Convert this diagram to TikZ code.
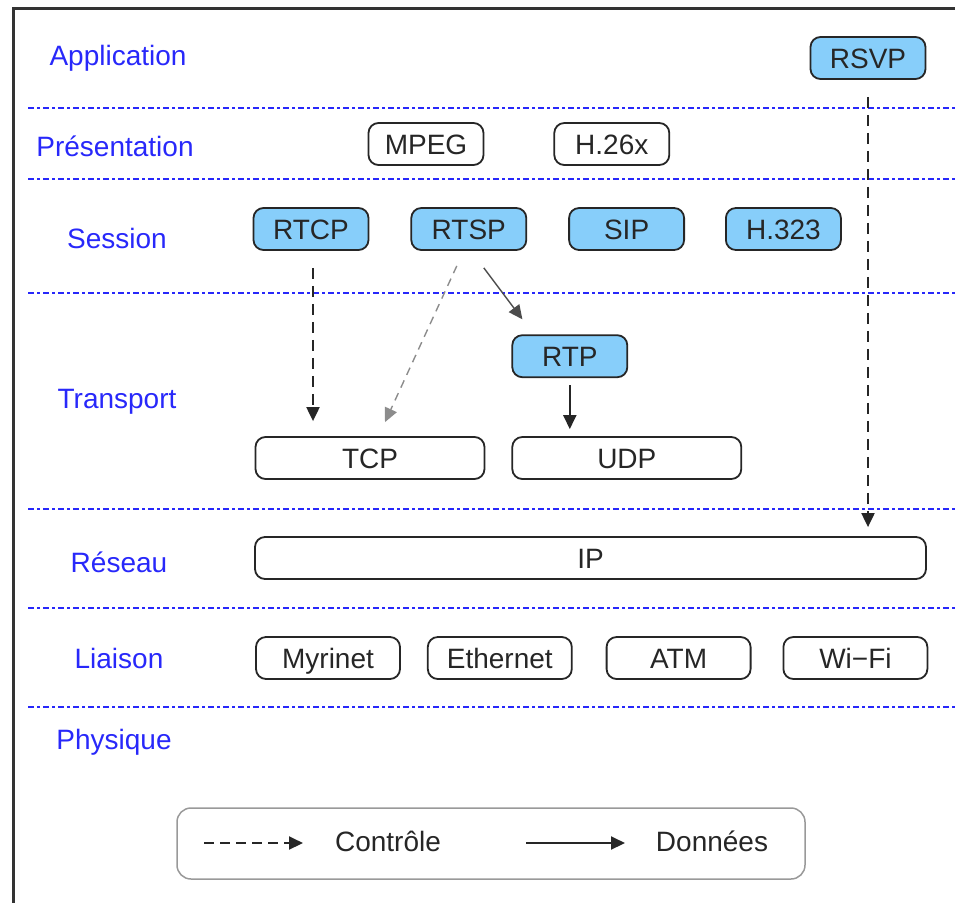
\documentclass[tikz,border=0pt]{standalone}
\usepackage{fontspec}
\setmainfont{Liberation Sans}
\usetikzlibrary{positioning,arrows.meta,calc}

\definecolor{bleucouche}{RGB}{40,40,250}
\definecolor{bleuproto}{RGB}{135,206,250}

\tikzset{
  proto/.style={rectangle, rounded corners=10pt, minimum width=115pt, minimum height=42pt, inner sep=0pt, text height=20pt, text depth=0pt, text centered, draw=black!85, line width=1.8pt, fill=white, text=black!85, font=\fontsize{28}{32}\selectfont},
  protobleu/.style={proto, fill=bleuproto},
  niveau/.style={text=bleucouche, font=\fontsize{28}{32}\selectfont},
  separateur/.style={bleucouche, line width=1.6pt, dash pattern=on 6pt off 3pt on 3pt off 3pt},
  fleche/.style={-{Triangle[length=14pt,width=13pt]}},
  controle/.style={fleche, black!85, line width=2pt, dash pattern=on 11pt off 7pt},
  donnees/.style={fleche, black!85, line width=2pt}
}

\begin{document}
\begin{tikzpicture}[x=1pt, y=-1pt]
\useasboundingbox (0,0) rectangle (955,903);

% Cadre
\draw[black!80, line width=3pt] (955,8) -- (13,8) -- (13,903);

% Couches OSI
\node (application) [niveau] at (118,58) {Application};
\node (presentation) [niveau] at (115,146) {Présentation};
\node (session) [niveau] at (117,238) {Session};
\node (transport) [niveau] at (117,402) {Transport};
\node (reseau) [niveau] at (119,562) {Réseau};
\node (liaison) [niveau] at (119,658) {Liaison};
\node (physique) [niveau] at (114,742) {Physique};

% Séparations entre couches
\draw[separateur] (28,108) -- (955,108);
\draw[separateur] (28,179) -- (955,179);
\draw[separateur] (28,293) -- (955,293);
\draw[separateur] (28,509) -- (955,509);
\draw[separateur] (28,608) -- (955,608);
\draw[separateur] (28,707) -- (955,707);

% Application et Présentation
\node (rsvp) [protobleu] at (868,58) {RSVP};
\node (mpeg) [proto] at (426,144) {MPEG};
\node (h26x) [proto, right=69pt of mpeg] {H.26x};

% Session
\node (rtcp) [protobleu] at (311,229) {RTCP};
\node (rtsp) [protobleu, right=41pt of rtcp] {RTSP};
\node (sip) [protobleu, right=41pt of rtsp] {SIP};
\node (h323) [protobleu, right=40pt of sip] {H.323};

% Transport
\node (tcp) [proto, minimum width=229pt] at (370,458) {TCP};
\node (udp) [proto, minimum width=229pt, right=26pt of tcp] {UDP};
\node (rtp) [protobleu, above=58pt of udp.north west, anchor=south west] {RTP};

% Réseau et Liaison
\node (ip) [proto, minimum width=671pt] at (590.5,558) {IP};
\node (myrinet) [proto, minimum width=144pt] at (328,658) {Myrinet};
\node (ethernet) [proto, minimum width=144pt, right=26pt of myrinet] {Ethernet};
\node (atm) [proto, minimum width=144pt, right=33pt of ethernet] {ATM};
\node (wifi) [proto, minimum width=144pt, right=31pt of atm] {Wi−Fi};

% Liens
\draw[controle] ($(rsvp.south)+(0,17)$) -- ($(rsvp.south |- ip.north)+(0,-9)$);
\draw[controle] ($(rtcp.south)+(2,17)$) -- ($(rtcp.south |- tcp.north)+(2,-15)$);
\draw[fleche, black!45, line width=1.4pt, dash pattern=on 8pt off 6pt] ($(rtsp.south)+(-12,15)$) -- ($(tcp.north)+(15,-14)$);
\draw[fleche, black!70, line width=1.4pt] ($(rtsp.south)+(15,17)$) -- ($(rtp.north west)+(11,-15)$);
\draw[donnees] ($(rtp.south)+(0,7)$) -- ($(rtp.south |- udp.north)+(0,-7)$);

% Légende
\node (legende) [rectangle, rounded corners=14pt, draw=black!40, line width=1.5pt, minimum width=628pt, minimum height=71pt] at (491,843.5) {};
\coordinate (ctrldebut) at (204,843);
\coordinate (ctrlfin) at (303,843);
\coordinate (donneesdebut) at (526,843);
\coordinate (donneesfin) at (625,843);
\node (txtcontrole) [text=black!85, font=\fontsize{28}{32}\selectfont] at (388,841) {Contrôle};
\node (txtdonnees) [text=black!85, font=\fontsize{28}{32}\selectfont] at (712,841) {Données};
\draw[controle, dash pattern=on 10pt off 6pt] (ctrldebut) -- (ctrlfin);
\draw[donnees] (donneesdebut) -- (donneesfin);

\end{tikzpicture}
\end{document}
